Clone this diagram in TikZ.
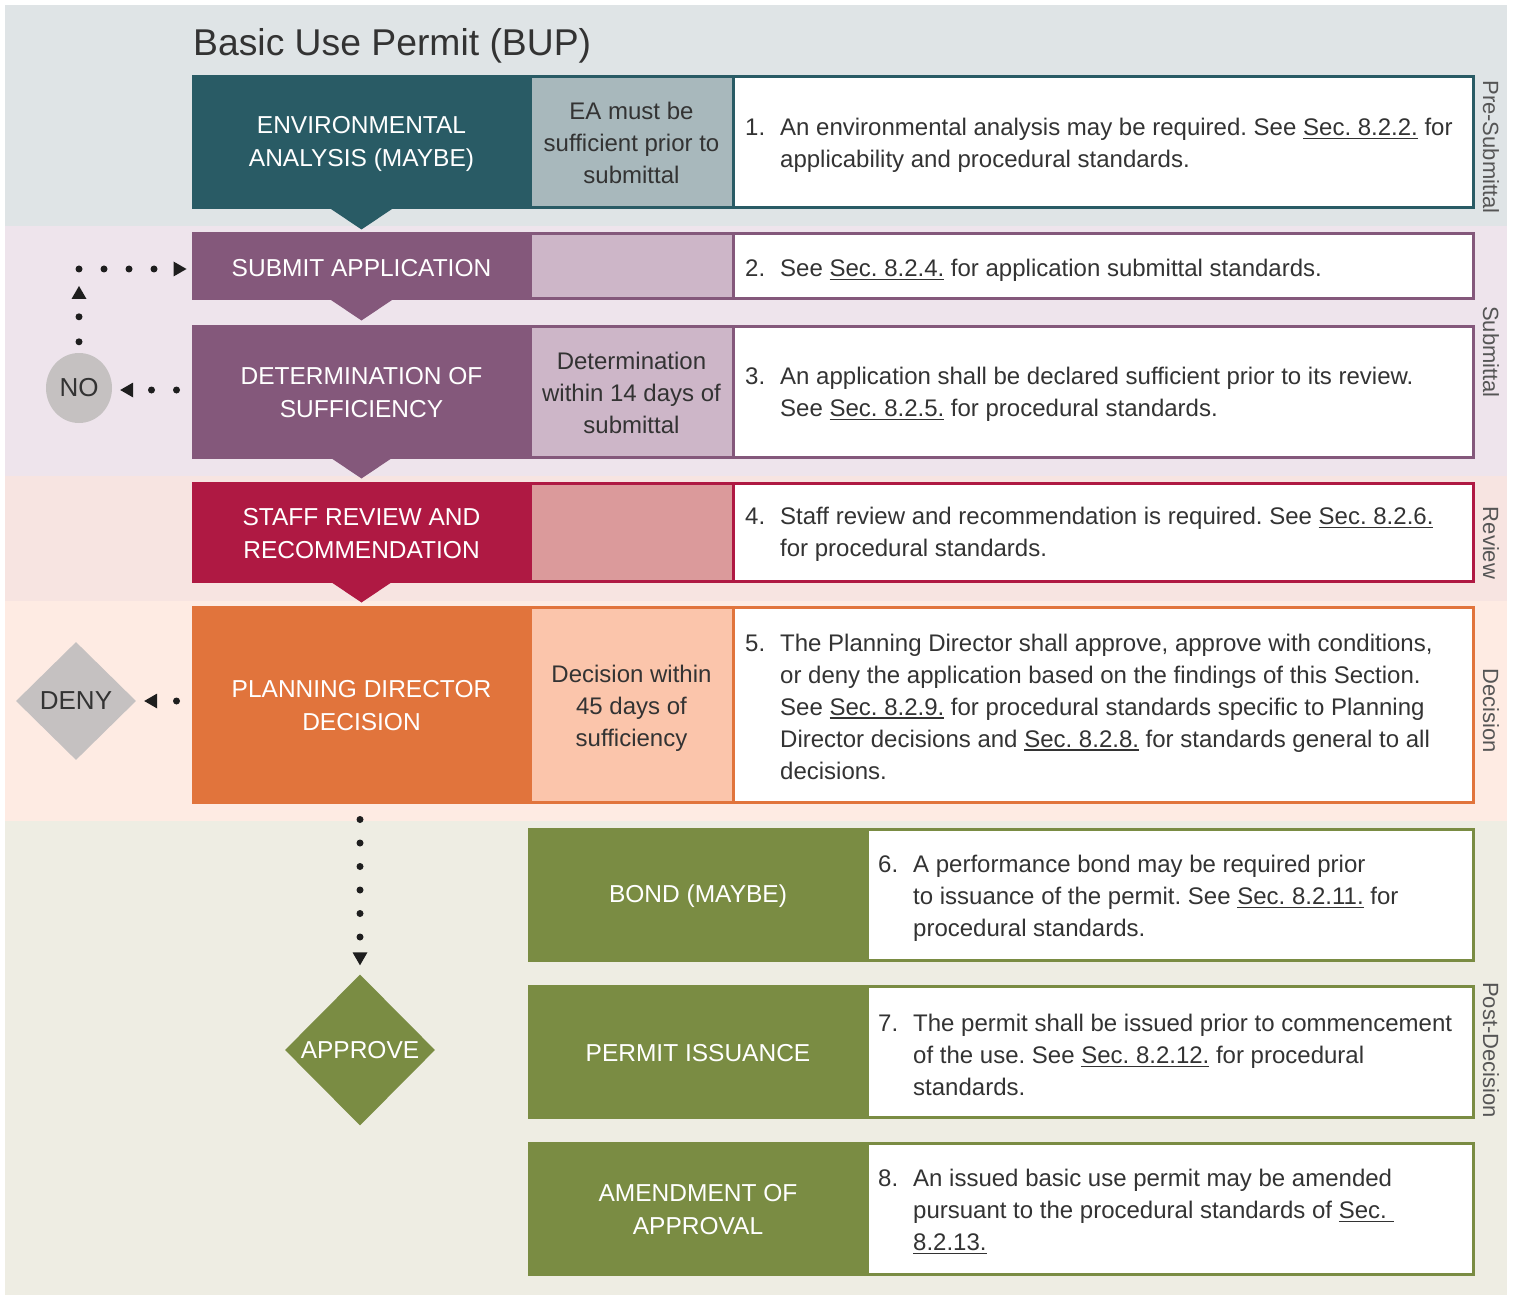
\documentclass[tikz,border=0pt]{standalone}
\usepackage{fontspec}
\setmainfont{Liberation Sans}
\usetikzlibrary{shapes.geometric,arrows.meta,calc}
\definecolor{bPre}{HTML}{DFE4E6}
\definecolor{bSub}{HTML}{EEE4EC}
\definecolor{bRev}{HTML}{F7E4E1}
\definecolor{bDec}{HTML}{FEEBE3}
\definecolor{bPost}{HTML}{EEEDE3}
\definecolor{cTeal}{HTML}{295B65}
\definecolor{cTealL}{HTML}{A8B8BC}
\definecolor{cPur}{HTML}{84587B}
\definecolor{cPurL}{HTML}{CDB6C8}
\definecolor{cCrim}{HTML}{AF1943}
\definecolor{cCrimL}{HTML}{DB9A9B}
\definecolor{cOra}{HTML}{E1743C}
\definecolor{cOraL}{HTML}{FBC5AB}
\definecolor{cGrn}{HTML}{7A8C43}
\definecolor{cGray}{HTML}{C5C1C1}
\definecolor{cText}{HTML}{333333}
\definecolor{cLane}{HTML}{555555}
\definecolor{cDot}{HTML}{1E1E1E}
\newcommand\secu[1]{\setbox0\hbox{#1}\rlap{\rule[-3.5pt]{\wd0}{1.1pt}}\box0\relax}
\newcommand\numA[1]{\llap{\makebox[35pt][l]{#1}}}
\frenchspacing
\begin{document}
\begin{tikzpicture}[x=1pt,y=-1pt,
  blk/.style={rectangle, inner sep=0pt, text=white, font=\fontsize{24.5}{33}\selectfont, align=center, line width=3pt},
  midc/.style={rectangle, inner sep=0pt, text=cText, font=\fontsize{24}{32}\selectfont, align=center, line width=3pt},
  rbox/.style={rectangle, inner sep=0pt, fill=white, line width=3pt},
  body/.style={anchor=west, inner sep=0pt, text=cText, font=\fontsize{24}{32}\selectfont, align=left},
  lane/.style={rotate=-90, inner sep=0pt, text=cLane, font=\fontsize{22}{26}\selectfont},
  dotline/.style={draw=cDot, line width=7pt, line cap=round, dash pattern=on 0pt off 25pt,
     -{Triangle[length=13pt,width=15pt,line width=0pt]}},
]
\useasboundingbox (0,0) rectangle (1515,1297);
\fill[white] (0,0) rectangle (1515,1297);
% bands
\fill[bPre] (5,5) rectangle (1507,226);
\fill[bSub] (5,226) rectangle (1507,476);
\fill[bRev] (5,476) rectangle (1507,601);
\fill[bDec] (5,601) rectangle (1507,821);
\fill[bPost] (5,821) rectangle (1507,1295);
% lane labels
\node[lane] (l1) at (1491,147) {Pre-Submittal};
\node[lane] (l2) at (1491,352) {Submittal};
\node[lane] (l3) at (1491,543) {Review};
\node[lane] (l4) at (1491,711) {Decision};
\node[lane] (l5) at (1491,1050) {Post-Decision};
% title
\node[anchor=base west, inner sep=0pt, text=cText, font=\fontsize{37.3}{44}\selectfont] (title) at (193,56) {Basic Use Permit (BUP)};
% row 1
\node[blk, fill=cTeal, draw=cTeal, minimum width=337pt, minimum height=131pt] (ea) at (361.5,142.5) {};
\node[blk] (ealab) at (361.5,144) {ENVIRONMENTAL\\ANALYSIS (MAYBE)};
\node[midc, fill=cTealL, draw=cTeal, minimum width=203pt, minimum height=131pt] (m1) at (631.5,142.5) {EA must be\\sufficient prior to\\submittal};
\node[rbox, draw=cTeal, minimum width=740pt, minimum height=131pt] (r1) at (1103,142.5) {};
\node[body] (t1) at (780,145.5) {\numA{1.}An environmental analysis may be required. See \secu{Sec. 8.2.2.} for\\applicability and procedural standards.};
% row 2
\node[blk, fill=cPur, draw=cPur, minimum width=337pt, minimum height=65pt] (sub) at (361.5,266.5) {};
\node[blk] (sublab) at (361.5,268.5) {SUBMIT APPLICATION};
\node[midc, fill=cPurL, draw=cPur, minimum width=203pt, minimum height=65pt] (m2) at (631.5,266.5) {};
\node[rbox, draw=cPur, minimum width=740pt, minimum height=65pt] (r2) at (1103,266.5) {};
\node[body] (t2) at (780,270) {\numA{2.}See \secu{Sec. 8.2.4.} for application submittal standards.};
% row 3
\node[blk, fill=cPur, draw=cPur, minimum width=337pt, minimum height=131pt] (det) at (361.5,391.5) {};
\node[blk] (detlab) at (361.5,393) {DETERMINATION OF\\SUFFICIENCY};
\node[midc, fill=cPurL, draw=cPur, minimum width=203pt, minimum height=131pt] (m3) at (631.5,391.5) {};
\node[midc] (m3lab) at (631.5,392.5) {Determination\\within 14 days of\\submittal};
\node[rbox, draw=cPur, minimum width=740pt, minimum height=131pt] (r3) at (1103,391.5) {};
\node[body] (t3) at (780,394.5) {\numA{3.}An application shall be declared sufficient prior to its review.\\See \secu{Sec. 8.2.5.} for procedural standards.};
% row 4
\node[blk, fill=cCrim, draw=cCrim, minimum width=337pt, minimum height=98pt] (staff) at (361.5,532) {};
\node[blk] (stafflab) at (361.5,533.5) {STAFF REVIEW AND\\RECOMMENDATION};
\node[midc, fill=cCrimL, draw=cCrim, minimum width=203pt, minimum height=98pt] (m4) at (631.5,532) {};
\node[rbox, draw=cCrim, minimum width=740pt, minimum height=98pt] (r4) at (1103,532) {};
\node[body] (t4) at (780,534.5) {\numA{4.}Staff review and recommendation is required. See \secu{Sec. 8.2.6.}\\for procedural standards.};
% row 5
\node[blk, fill=cOra, draw=cOra, minimum width=337pt, minimum height=195pt] (pd) at (361.5,704.5) {};
\node[blk] (pdlab) at (361.5,705.5) {PLANNING DIRECTOR\\DECISION};
\node[midc, fill=cOraL, draw=cOra, minimum width=203pt, minimum height=195pt] (m5) at (631.5,704.5) {};
\node[midc] (m5lab) at (631.5,708.5) {Decision within\\45 days of\\sufficiency};
\node[rbox, draw=cOra, minimum width=740pt, minimum height=195pt] (r5) at (1103,704.5) {};
\node[body] (t5) at (780,706.5) {\numA{5.}The Planning Director shall approve, approve with conditions,\\or deny the application based on the findings of this Section.\\See \secu{Sec. 8.2.9.} for procedural standards specific to Planning\\Director decisions and \secu{Sec. 8.2.8.} for standards general to all\\decisions.};
% pointers
\foreach \n/\c in {ea/cTeal, sub/cPur, det/cPur, staff/cCrim}{
  \fill[\c] ($(\n.south)+(-32,-1.5)$) -- ($(\n.south)+(32,-1.5)$) -- ($(\n.south)+(0,20)$) -- cycle;
}
% green rows
\node[blk, fill=cGrn, draw=cGrn, minimum width=338pt, minimum height=131pt] (bond) at (698,894.5) {};
\node[blk] (bondlab) at (698,896.5) {BOND (MAYBE)};
\node[rbox, draw=cGrn, minimum width=606pt, minimum height=131pt] (g1) at (1170,894.5) {};
\node[body] (t6) at (913,898) {\numA{6.}A performance bond may be required prior\\to issuance of the permit. See \secu{Sec. 8.2.11.} for\\procedural standards.};
\node[blk, fill=cGrn, draw=cGrn, minimum width=338pt, minimum height=131pt] (iss) at (698,1051.5) {};
\node[blk] (isslab) at (698,1053.5) {PERMIT ISSUANCE};
\node[rbox, draw=cGrn, minimum width=606pt, minimum height=131pt] (g2) at (1170,1051.5) {};
\node[body] (t7) at (913,1055) {\numA{7.}The permit shall be issued prior to commencement\\of the use. See \secu{Sec. 8.2.12.} for procedural\\standards.};
\node[blk, fill=cGrn, draw=cGrn, minimum width=338pt, minimum height=131pt] (amd) at (698,1208.5) {};
\node[blk] (amdlab) at (698,1210) {AMENDMENT OF\\APPROVAL};
\node[rbox, draw=cGrn, minimum width=606pt, minimum height=131pt] (g3) at (1170,1208.5) {};
\node[body] (t8) at (913,1212) {\numA{8.}An issued basic use permit may be amended\\pursuant to the procedural standards of \secu{Sec. }\\\secu{8.2.13.}};
% outcomes
\node[ellipse, fill=cGray, minimum width=66pt, minimum height=70pt, inner sep=0pt, text=cText, font=\fontsize{26}{30}\selectfont] (no) at (79,388) {\makebox[0pt]{NO}};
\node[diamond, fill=cGray, minimum width=120pt, minimum height=118pt, inner sep=0pt, text=cText, font=\fontsize{26}{30}\selectfont] (deny) at (76,701) {\makebox[0pt]{DENY}};
\node[diamond, fill=cGrn, minimum width=150pt, minimum height=151pt, inner sep=0pt, text=white, font=\fontsize{24.5}{30}\selectfont] (appr) at (360,1050) {\makebox[0pt]{APPROVE}};
\coordinate (corner) at (79,269);
% connectors
\draw[dotline, shorten <=15pt, shorten >=8pt] (det.west |- 0,390) -- (no.east |- 0,390);
\draw[dotline, shorten <=11pt, shorten >=17pt] (no.north) -- (corner);
\draw[dotline, shorten >=5pt] (corner) -- (sub.west |- corner);
\draw[dotline, shorten <=15pt, shorten >=8pt] (pd.west |- deny.east) -- (deny.east);
\draw[dotline, dash pattern=on 0pt off 23.5pt, shorten <=16pt, shorten >=9pt] (appr.north |- pd.south) -- (appr.north);
\end{tikzpicture}
\end{document}
